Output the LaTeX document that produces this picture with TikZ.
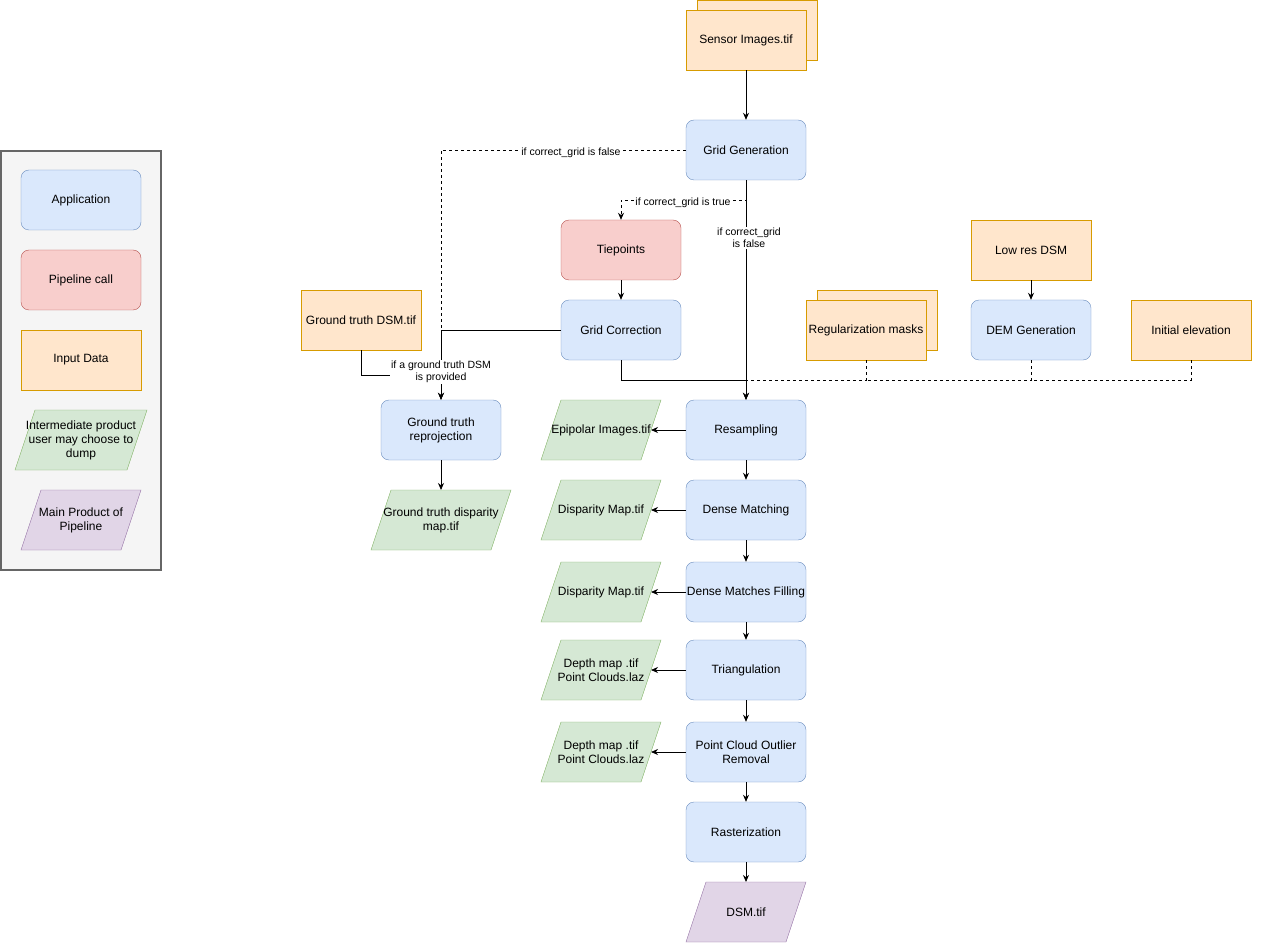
\documentclass[tikz,border=0pt]{standalone}
\usepackage{fontspec}
\setmainfont{Liberation Sans}
\usetikzlibrary{arrows.meta}
\definecolor{bfill}{HTML}{DAE8FC}\definecolor{bdraw}{HTML}{6C8EBF}
\definecolor{rfill}{HTML}{F8CECC}\definecolor{rdraw}{HTML}{B85450}
\definecolor{ofill}{HTML}{FFE6CC}\definecolor{odraw}{HTML}{D79B00}
\definecolor{gfill}{HTML}{D5E8D4}\definecolor{gdraw}{HTML}{82B366}
\definecolor{pfill}{HTML}{E1D5E7}\definecolor{pdraw}{HTML}{9673A6}
\definecolor{lfill}{HTML}{F5F5F5}\definecolor{ldraw}{HTML}{666666}
\tikzset{
  base/.style={minimum width=120pt,minimum height=60pt,inner sep=1pt,align=center,font=\fontsize{12}{14}\selectfont},
  app/.style={base,draw=bdraw,fill=bfill,rounded corners=8pt},
  pipe/.style={base,draw=rdraw,fill=rfill,rounded corners=8pt},
  inp/.style={base,draw=odraw,fill=ofill},
  ptext/.style={base,minimum width=100pt},
  lbl/.style={fill=white,inner sep=1pt,align=center,font=\fontsize{10.5}{12}\selectfont},
  arr/.style={-{Stealth[length=7pt,width=6pt]},line width=0.8pt},
  ln/.style={line width=0.8pt},
  dsh/.style={dashed,dash pattern=on 3pt off 3pt}
}
\newcommand\pgram[7]{%
  \draw[fill=#5,draw=#6] (#2-#4/2+20,#3-30)--(#2+#4/2,#3-30)--(#2+#4/2-20,#3+30)--(#2-#4/2,#3+30)--cycle;
  \node[ptext] (#1) at (#2,#3) {#7};}
\begin{document}
\begin{tikzpicture}[x=1pt,y=-1pt]
\useasboundingbox (0,0) rectangle (1262,944);
% legend
\draw[fill=lfill,draw=ldraw,line width=2pt] (1,151) rectangle (161,570);
\node[app] (la) at (81,200) {Application};
\node[pipe] (lp) at (81,280) {Pipeline call};
\node[inp] (li) at (81,360) {Input Data};
\pgram{lint}{81}{440}{132}{gfill}{gdraw}{Intermediate product\\user may choose to\\dump}
\pgram{lmain}{81}{520}{120}{pfill}{pdraw}{Main Product of\\Pipeline}
% inputs
\draw[draw=odraw,fill=ofill] (697,0) rectangle (817,60);
\node[inp] (sens) at (746,40) {Sensor Images.tif};
\node[app] (grid) at (746,150) {Grid Generation};
\node[pipe] (tie) at (621,250) {Tiepoints};
\node[app] (gcor) at (621,330) {Grid Correction};
\node[inp] (gtdsm) at (361,320) {Ground truth DSM.tif};
\node[app] (gtrep) at (441,430) {Ground truth\\reprojection};
\pgram{gtdisp}{441}{520}{140}{gfill}{gdraw}{Ground truth disparity\\map.tif}
\draw[draw=odraw,fill=ofill] (817,290) rectangle (937,350);
\node[inp] (reg) at (866,330) {Regularization masks};
\node[inp] (lowres) at (1031,250) {Low res DSM};
\node[app] (dem) at (1031,330) {DEM Generation};
\node[inp] (init) at (1191,330) {Initial elevation};
\node[app] (res) at (746,430) {Resampling};
\node[app] (dm) at (746,510) {Dense Matching};
\node[app] (dmf) at (746,592) {Dense Matches Filling};
\node[app] (tri) at (746,670) {Triangulation};
\node[app] (pco) at (746,752) {Point Cloud Outlier\\Removal};
\node[app] (ras) at (746,832) {Rasterization};
\pgram{dsm}{746}{912}{120}{pfill}{pdraw}{DSM.tif}
\pgram{g1}{601}{430}{120}{gfill}{gdraw}{Epipolar Images.tif}
\pgram{g2}{601}{510}{120}{gfill}{gdraw}{Disparity Map.tif}
\pgram{g3}{601}{592}{120}{gfill}{gdraw}{Disparity Map.tif}
\pgram{g4}{601}{670}{120}{gfill}{gdraw}{Depth map .tif\\Point Clouds.laz}
\pgram{g5}{601}{752}{120}{gfill}{gdraw}{Depth map .tif\\Point Clouds.laz}
% edges
\draw[arr] (sens) -- (grid);
\draw[arr,dsh] (grid.west) -- (441,150) -- (gtrep.north);
\node[lbl] at (571,153) {if correct\_grid is false};
\draw[arr,dsh] (grid.south) -- (746,200) -- (621,200) -- (tie.north);
\node[lbl] at (683,203) {if correct\_grid is true};
\draw[arr] (grid.south) -- (res.north);
\node[lbl] at (749,238) {if correct\_grid\\is false};
\draw[arr] (tie) -- (gcor);
\draw[ln] (gcor.west) -- (441,330) -- (441,380);
\draw[arr] (gtdsm.south) -- (361,375) -- (441,375) -- (gtrep.north);
\node[lbl] at (441,372) {if a ground truth DSM\\is provided};
\draw[arr] (gcor.south) -- (621,380) -- (746,380) -- (res.north);
\draw[ln,dsh] (reg.south) -- (866,380) -- (746,380);
\draw[ln,dsh] (dem.south) -- (1031,380) -- (866,380);
\draw[ln,dsh] (init.south) -- (1191,380) -- (1031,380);
\draw[arr] (lowres) -- (dem);
\draw[arr] (gtrep) -- (441,490);
\draw[arr] (res) -- (dm);
\draw[arr] (dm) -- (dmf);
\draw[arr] (dmf) -- (tri);
\draw[arr] (tri) -- (pco);
\draw[arr] (pco) -- (ras);
\draw[arr] (ras) -- (746,882);
\draw[arr] (res.west) -- (651,430);
\draw[arr] (dm.west) -- (651,510);
\draw[arr] (dmf.west) -- (651,592);
\draw[arr] (tri.west) -- (651,670);
\draw[arr] (pco.west) -- (651,752);
\end{tikzpicture}
\end{document}
